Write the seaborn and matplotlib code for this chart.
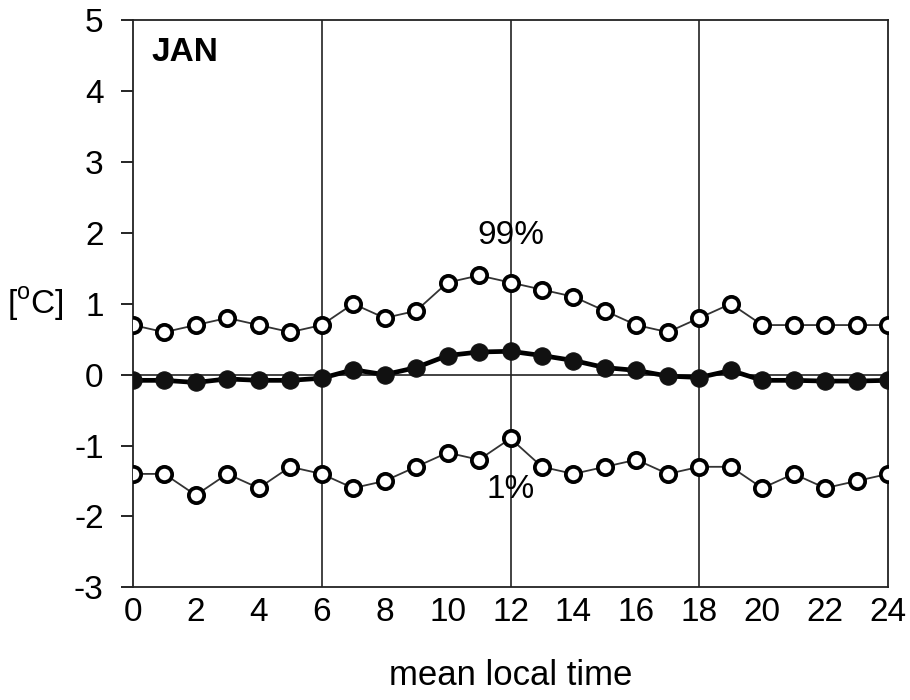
import matplotlib
matplotlib.use("Agg")
import matplotlib.pyplot as plt
import seaborn as sns
import pandas as pd

# Hourly temperature deviation statistics for January
hours = list(range(25))
p99 = [0.7, 0.6, 0.7, 0.8, 0.7, 0.6, 0.7, 1.0, 0.8, 0.9, 1.3, 1.4, 1.3,
       1.2, 1.1, 0.9, 0.7, 0.6, 0.8, 1.0, 0.7, 0.7, 0.7, 0.7, 0.7]
mean = [-0.08, -0.08, -0.11, -0.06, -0.08, -0.08, -0.05, 0.07, 0.0, 0.10,
        0.27, 0.32, 0.33, 0.27, 0.20, 0.10, 0.06, -0.02, -0.04, 0.06,
        -0.08, -0.08, -0.09, -0.09, -0.08]
p1 = [-1.4, -1.4, -1.7, -1.4, -1.6, -1.3, -1.4, -1.6, -1.5, -1.3, -1.1,
      -1.2, -0.9, -1.3, -1.4, -1.3, -1.2, -1.4, -1.3, -1.3, -1.6, -1.4,
      -1.6, -1.5, -1.4]
xticks = list(range(0, 25, 2))
yticks = list(range(-3, 6))

df = pd.DataFrame({"hour": hours, "p99": p99, "mean": mean, "p1": p1})

sns.set_theme(style="white")
plt.rcParams["font.family"] = ["Liberation Sans", "DejaVu Sans"]
plt.rcParams["axes.unicode_minus"] = False
plt.rcParams["text.color"] = "black"
plt.rcParams["axes.labelcolor"] = "black"

fig = plt.figure(figsize=(9.1, 7.0), dpi=100)
ax = fig.add_axes([0.146, 0.161, 0.830, 0.810])

# reference lines
for xv in (6, 12, 18):
    ax.axvline(xv, color="#222222", lw=1.2, zorder=1)
ax.axhline(0, color="#222222", lw=1.2, zorder=1)

open_style = dict(color="#333333", lw=1.3, marker="o", markersize=11,
                  markerfacecolor="white", markeredgecolor="black",
                  markeredgewidth=2.7)
sns.lineplot(data=df, x="hour", y="p99", ax=ax, zorder=3, **open_style)
sns.lineplot(data=df, x="hour", y="p1", ax=ax, zorder=3, **open_style)
sns.lineplot(data=df, x="hour", y="mean", ax=ax, color="black", lw=3.4,
             marker="o", markersize=12.5, markerfacecolor="#111111",
             markeredgecolor="#111111", zorder=4)

ax.set_xlim(0, 24)
ax.set_ylim(-3, 5)
ax.set_xticks(xticks)
ax.set_yticks(yticks)
ax.tick_params(axis="both", labelsize=24, colors="black")
ax.tick_params(axis="y", direction="out", length=9, width=1.2, left=True, pad=12)
ax.tick_params(axis="x", length=0, pad=7)
for s in ax.spines.values():
    s.set_color("#222222")
    s.set_linewidth(1.3)

ax.set_xlabel("mean local time", fontsize=25, labelpad=22)
ax.set_ylabel("")
fig.text(0.008, 0.565, "[$^\\mathregular{o}$C]", fontsize=24, ha="left", va="center")

ax.text(0.6, 4.55, "JAN", fontsize=24, fontweight="bold", ha="left", va="center")
ax.text(12, 1.96, "99%", fontsize=24, ha="center", va="center")
ax.text(12, -1.62, "1%", fontsize=24, ha="center", va="center")

fig.savefig("out.png", dpi=100)
